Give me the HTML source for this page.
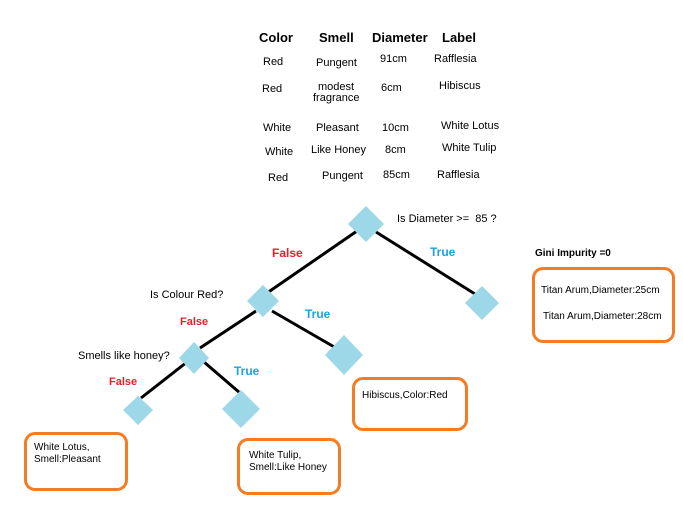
<!DOCTYPE html>
<html><head><meta charset="utf-8"><style>
html,body{margin:0;padding:0;background:#fff;}
body{width:683px;height:505px;position:relative;overflow:hidden;font-family:"Liberation Sans",sans-serif;color:#000;}
.t{position:absolute;white-space:nowrap;font-size:11px;line-height:12px;}
.h{position:absolute;font-weight:bold;font-size:13px;}
.b{position:absolute;border:3px solid #f57c22;border-radius:11px;box-sizing:border-box;}
.r{color:#e8202c;font-weight:bold;}
.bl{color:#1ba1e2;font-weight:bold;}
</style></head><body>
<div class="h" style="left:259px;top:30px">Color</div>
<div class="h" style="left:319px;top:30px">Smell</div>
<div class="h" style="left:372px;top:30px">Diameter</div>
<div class="h" style="left:442px;top:30px">Label</div>

<div class="t" style="left:263px;top:56px">Red</div>
<div class="t" style="left:316px;top:57px">Pungent</div>
<div class="t" style="left:380px;top:53px">91cm</div>
<div class="t" style="left:434px;top:53px">Rafflesia</div>

<div class="t" style="left:262px;top:83px">Red</div>
<div class="t" style="left:318px;top:81px">modest</div>
<div class="t" style="left:313px;top:92px">fragrance</div>
<div class="t" style="left:381px;top:82px">6cm</div>
<div class="t" style="left:439px;top:80px">Hibiscus</div>

<div class="t" style="left:263px;top:122px">White</div>
<div class="t" style="left:316px;top:122px">Pleasant</div>
<div class="t" style="left:382px;top:122px">10cm</div>
<div class="t" style="left:441px;top:120px">White Lotus</div>

<div class="t" style="left:265px;top:146px">White</div>
<div class="t" style="left:311px;top:144px">Like Honey</div>
<div class="t" style="left:385px;top:144px">8cm</div>
<div class="t" style="left:442px;top:142px">White Tulip</div>

<div class="t" style="left:268px;top:172px">Red</div>
<div class="t" style="left:322px;top:170px">Pungent</div>
<div class="t" style="left:383px;top:169px">85cm</div>
<div class="t" style="left:437px;top:169px">Rafflesia</div>

<svg width="683" height="505" style="position:absolute;left:0;top:0">
<g stroke="#000" stroke-width="3">
<line x1="357" y1="231" x2="267" y2="293"/>
<line x1="376" y1="232" x2="475" y2="294"/>
<line x1="256" y1="311" x2="200" y2="348"/>
<line x1="272" y1="311" x2="336" y2="348"/>
<line x1="187" y1="362" x2="141" y2="398"/>
<line x1="204" y1="362" x2="240" y2="393"/>
</g>
<g fill="#9dd8e8">
<polygon points="366,206 384,224 366,242 348,224"/>
<polygon points="482,286 499,303 482,320 465,303"/>
<polygon points="263,285 279,301 263,317 247,301"/>
<polygon points="344,335 363,355 344,375 325,355"/>
<polygon points="194,342 209,358 194,374 179,358"/>
<polygon points="138,396 153,410 138,425 123,410"/>
<polygon points="241,390 260,409 241,428 222,409"/>
</g>
</svg>

<div class="t" style="left:397px;top:213px">Is Diameter &gt;=&nbsp; 85 ?</div>
<div class="t r" style="left:272px;top:247px;font-size:12px">False</div>
<div class="t bl" style="left:430px;top:246px;font-size:12px">True</div>
<div class="t" style="left:535px;top:248px;font-weight:bold;font-size:10px">Gini Impurity =0</div>
<div class="t" style="left:150px;top:289px">Is Colour Red?</div>
<div class="t r" style="left:180px;top:316px">False</div>
<div class="t bl" style="left:305px;top:308px;font-size:12px">True</div>
<div class="t" style="left:78px;top:350px">Smells like honey?</div>
<div class="t bl" style="left:234px;top:365px;font-size:12px">True</div>
<div class="t r" style="left:109px;top:376px">False</div>

<div class="b" style="left:532px;top:267px;width:143px;height:76px"></div>
<div class="t" style="left:541px;top:285px;font-size:10px">Titan Arum,Diameter:25cm</div>
<div class="t" style="left:543px;top:311px;font-size:10px">Titan Arum,Diameter:28cm</div>

<div class="b" style="left:352px;top:377px;width:116px;height:54px"></div>
<div class="t" style="left:362px;top:390px;font-size:10px">Hibiscus,Color:Red</div>

<div class="b" style="left:24px;top:432px;width:104px;height:59px"></div>
<div class="t" style="left:34px;top:442px;font-size:10px">White Lotus,<br>Smell:Pleasant</div>

<div class="b" style="left:237px;top:438px;width:104px;height:57px"></div>
<div class="t" style="left:249px;top:450px;font-size:10px">White Tulip,<br>Smell:Like Honey</div>
</body></html>
